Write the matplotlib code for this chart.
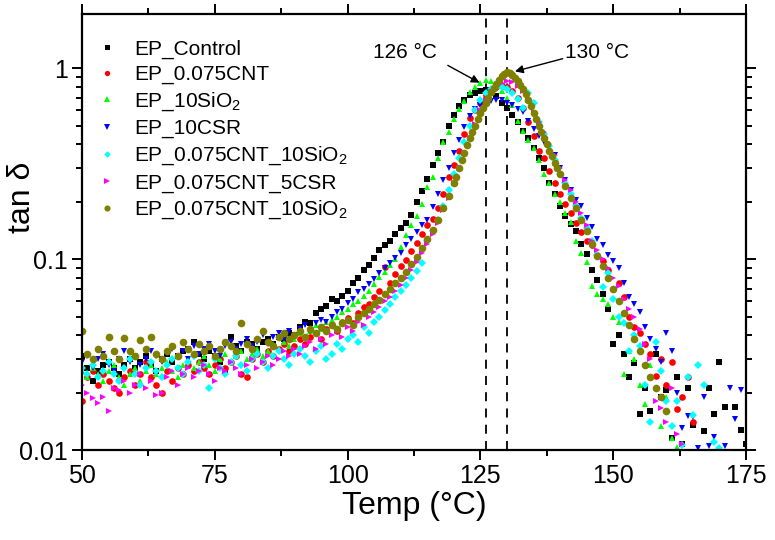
import numpy as np
import matplotlib
matplotlib.use("Agg")
import matplotlib.pyplot as plt
from matplotlib.ticker import MultipleLocator, LogLocator, NullFormatter, FixedLocator, FixedFormatter

plt.rcParams["font.family"] = ["Liberation Sans", "DejaVu Sans"]
plt.rcParams["mathtext.fontset"] = "custom"
plt.rcParams["mathtext.rm"] = "Liberation Sans"
plt.rcParams["mathtext.it"] = "Liberation Sans:italic"

# ---- data ----
temp_control = np.arange(50, 176)
tan_control = [
    0.031, 0.027, 0.023, 0.026, 0.028, 0.029, 0.027, 0.025, 0.028, 0.030,
    0.027, 0.029, 0.031, 0.028, 0.026, 0.030, 0.032, 0.029, 0.031, 0.033,
    0.034, 0.037, 0.032, 0.030, 0.033, 0.031, 0.029, 0.026, 0.039, 0.035,
    0.033, 0.037, 0.036, 0.034, 0.037, 0.038, 0.036, 0.039, 0.038, 0.041,
    0.040, 0.044, 0.047, 0.046, 0.052, 0.055, 0.057, 0.062, 0.060, 0.064,
    0.068, 0.075, 0.080, 0.088, 0.093, 0.101, 0.112, 0.118, 0.125, 0.136,
    0.146, 0.155, 0.170, 0.198, 0.228, 0.262, 0.31, 0.36, 0.41, 0.50,
    0.57, 0.63, 0.68, 0.72, 0.74, 0.76, 0.77, 0.74, 0.71, 0.66,
    0.62, 0.57, 0.52, 0.47, 0.43, 0.38, 0.34, 0.30, 0.25, 0.22,
    0.19, 0.168, 0.152, 0.140, 0.120, 0.106, 0.088, 0.078, 0.066, 0.055,
    0.036, 0.040, 0.032, 0.024, 0.0285, 0.0155, 0.021, 0.016, 0.032, 0.019,
    0.0205, 0.0116, 0.024, 0.0108, 0.021, 0.0135, 0.0095, 0.0125, 0.021, 0.0155,
    0.029, 0.0168, 0.0095, 0.0167, 0.0128, 0.0108,
]

temp_cnt = np.arange(50, 166)
tan_cnt = [
    0.018, 0.024, 0.026, 0.022, 0.025, 0.023, 0.021, 0.020, 0.024, 0.026,
    0.022, 0.025, 0.029, 0.024, 0.022, 0.020, 0.026, 0.023, 0.027, 0.025,
    0.028, 0.026, 0.029, 0.027, 0.025, 0.028, 0.030, 0.027, 0.029, 0.031,
    0.025, 0.024, 0.030, 0.032, 0.029, 0.033, 0.031, 0.034, 0.036, 0.033,
    0.035, 0.038, 0.036, 0.039, 0.041, 0.038, 0.043, 0.045, 0.042, 0.047,
    0.049, 0.046, 0.052, 0.056, 0.058, 0.063, 0.068, 0.091, 0.075, 0.084,
    0.092, 0.099, 0.110, 0.122, 0.136, 0.150, 0.162, 0.185, 0.22, 0.27,
    0.31, 0.37, 0.45, 0.55, 0.60, 0.66, 0.72, 0.77, 0.80, 0.81,
    0.80, 0.76, 0.70, 0.62, 0.52, 0.44, 0.37, 0.34, 0.29, 0.25,
    0.22, 0.195, 0.175, 0.155, 0.138, 0.125, 0.118, 0.105, 0.098, 0.088,
    0.070, 0.075, 0.063, 0.050, 0.044, 0.041, 0.036, 0.032, 0.0245, 0.030,
    0.022, 0.029, 0.0164, 0.019, 0.024, 0.014,
]

temp_sio2 = np.arange(50, 163)
tan_sio2 = [
    0.026, 0.024, 0.027, 0.025, 0.023, 0.026, 0.028, 0.024, 0.022, 0.025,
    0.027, 0.023, 0.026, 0.028, 0.025, 0.027, 0.029, 0.026, 0.024, 0.028,
    0.030, 0.027, 0.029, 0.031, 0.028, 0.026, 0.030, 0.032, 0.029, 0.031,
    0.033, 0.030, 0.032, 0.034, 0.031, 0.033, 0.036, 0.034, 0.037, 0.035,
    0.038, 0.041, 0.039, 0.042, 0.045, 0.043, 0.047, 0.048, 0.050, 0.053,
    0.055, 0.058, 0.060, 0.064, 0.068, 0.074, 0.081, 0.086, 0.093, 0.100,
    0.115, 0.134, 0.150, 0.168, 0.195, 0.238, 0.27, 0.34, 0.41, 0.46,
    0.54, 0.61, 0.67, 0.75, 0.80, 0.84, 0.87, 0.86, 0.81, 0.76,
    0.70, 0.64, 0.53, 0.47, 0.42, 0.38, 0.33, 0.28, 0.25, 0.22,
    0.20, 0.175, 0.156, 0.125, 0.108, 0.097, 0.072, 0.066, 0.062, 0.058,
    0.050, 0.047, 0.025, 0.033, 0.030, 0.022, 0.0175, 0.028, 0.021, 0.0133,
    0.019, 0.0115, 0.0104,
]

temp_csr = np.arange(50, 175)
tan_csr = [
    0.029, 0.031, 0.027, 0.030, 0.032, 0.028, 0.026, 0.030, 0.033, 0.029,
    0.031, 0.028, 0.030, 0.033, 0.031, 0.029, 0.032, 0.034, 0.031, 0.033,
    0.030, 0.035, 0.032, 0.034, 0.036, 0.033, 0.031, 0.035, 0.037, 0.034,
    0.036, 0.038, 0.035, 0.037, 0.040, 0.036, 0.039, 0.041, 0.038, 0.042,
    0.040, 0.043, 0.045, 0.042, 0.046, 0.048, 0.047, 0.050, 0.053, 0.055,
    0.059, 0.062, 0.067, 0.070, 0.074, 0.079, 0.085, 0.090, 0.095, 0.101,
    0.107, 0.118, 0.128, 0.138, 0.150, 0.160, 0.187, 0.22, 0.26, 0.30,
    0.36, 0.42, 0.49, 0.56, 0.61, 0.64, 0.66, 0.67, 0.68, 0.68,
    0.66, 0.64, 0.61, 0.59, 0.53, 0.48, 0.44, 0.41, 0.38, 0.35,
    0.30, 0.26, 0.23, 0.205, 0.19, 0.165, 0.148, 0.128, 0.118, 0.105,
    0.098, 0.090, 0.075, 0.063, 0.058, 0.053, 0.044, 0.038, 0.034, 0.029,
    0.041, 0.033, 0.020, 0.013, 0.015, 0.0149, 0.0102, 0.019, 0.0105, 0.0117,
    0.0098, 0.0105, 0.021, 0.0145, 0.0205,
]

temp_cnt_sio2 = np.arange(50, 171)
tan_cnt_sio2 = [
    0.027, 0.025, 0.028, 0.024, 0.026, 0.029, 0.025, 0.023, 0.027, 0.030,
    0.025, 0.022, 0.027, 0.029, 0.026, 0.024, 0.028, 0.030, 0.027, 0.025,
    0.029, 0.031, 0.026, 0.028, 0.021, 0.030, 0.027, 0.025, 0.029, 0.031,
    0.028, 0.026, 0.030, 0.032, 0.029, 0.027, 0.031, 0.033, 0.030, 0.028,
    0.032, 0.034, 0.031, 0.029, 0.033, 0.035, 0.030, 0.032, 0.036, 0.034,
    0.038, 0.040, 0.037, 0.044, 0.041, 0.047, 0.050, 0.054, 0.058, 0.063,
    0.068, 0.073, 0.080, 0.087, 0.095, 0.125, 0.140, 0.16, 0.19, 0.23,
    0.28, 0.34, 0.41, 0.50, 0.60, 0.68, 0.74, 0.78, 0.80, 0.80,
    0.78, 0.74, 0.69, 0.62, 0.74, 0.66, 0.52, 0.45, 0.39, 0.33,
    0.28, 0.25, 0.22, 0.19, 0.165, 0.145, 0.125, 0.105, 0.071, 0.085,
    0.062, 0.050, 0.046, 0.033, 0.040, 0.035, 0.022, 0.014, 0.037, 0.026,
    0.018, 0.0133, 0.018, 0.0106, 0.024, 0.0152, 0.028, 0.022, 0.0098, 0.011,
    0.0102,
]

temp_cnt_csr = np.arange(50, 164)
tan_cnt_csr = [
    0.022, 0.020, 0.0187, 0.0177, 0.019, 0.016, 0.021, 0.0205, 0.023, 0.020,
    0.022, 0.025, 0.021, 0.023, 0.0194, 0.020, 0.024, 0.026, 0.022, 0.025,
    0.027, 0.024, 0.026, 0.028, 0.025, 0.023, 0.027, 0.026, 0.029, 0.027,
    0.025, 0.028, 0.030, 0.027, 0.029, 0.031, 0.028, 0.030, 0.033, 0.031,
    0.034, 0.032, 0.035, 0.037, 0.034, 0.038, 0.036, 0.040, 0.042, 0.039,
    0.044, 0.042, 0.047, 0.045, 0.050, 0.053, 0.056, 0.060, 0.063, 0.068,
    0.073, 0.080, 0.088, 0.097, 0.108, 0.120, 0.135, 0.155, 0.18, 0.21,
    0.25, 0.30, 0.36, 0.43, 0.51, 0.60, 0.68, 0.75, 0.80, 0.84,
    0.86, 0.85, 0.81, 0.76, 0.68, 0.59, 0.52, 0.46, 0.40, 0.35,
    0.30, 0.26, 0.23, 0.20, 0.175, 0.150, 0.125, 0.112, 0.100, 0.090,
    0.080, 0.072, 0.062, 0.055, 0.050, 0.043, 0.036, 0.030, 0.018, 0.0165,
    0.014, 0.021, 0.0122, 0.0108,
]

temp_cnt_sio2_b = np.concatenate([np.arange(50, 120), np.arange(120, 140, 0.5), np.arange(140, 161)])
tan_cnt_sio2_b = [
    0.042, 0.032, 0.030, 0.034, 0.031, 0.039, 0.033, 0.030, 0.0385, 0.033,
    0.031, 0.0375, 0.034, 0.039, 0.032, 0.030, 0.033, 0.035, 0.031, 0.037,
    0.034, 0.032, 0.036, 0.033, 0.035, 0.031, 0.034, 0.037, 0.035, 0.033,
    0.046, 0.036, 0.034, 0.038, 0.042, 0.037, 0.035, 0.039, 0.041, 0.038,
    0.040, 0.042, 0.039, 0.043, 0.041, 0.044, 0.042, 0.045, 0.043, 0.046,
    0.048, 0.045, 0.050, 0.052, 0.055, 0.058, 0.061, 0.066, 0.070, 0.075,
    0.080, 0.086, 0.094, 0.103, 0.114, 0.127, 0.142, 0.160, 0.185, 0.215,
    0.25, 0.27, 0.30, 0.33, 0.36, 0.395, 0.43, 0.465, 0.50, 0.54,
    0.58, 0.62, 0.66, 0.70, 0.75, 0.79, 0.83, 0.87, 0.91, 0.935,
    0.95, 0.94, 0.92, 0.89, 0.86, 0.82, 0.78, 0.73, 0.68, 0.63,
    0.58, 0.54, 0.50, 0.465, 0.43, 0.40, 0.37, 0.345, 0.32, 0.30,
    0.28, 0.24, 0.21, 0.185, 0.16, 0.14, 0.12, 0.104, 0.092, 0.080,
    0.070, 0.060, 0.052, 0.045, 0.038, 0.033, 0.028, 0.024, 0.021, 0.019, 0.016,
]

labels = ["EP_Control", "EP_0.075CNT", "EP_10SiO$_2$", "EP_10CSR",
          "EP_0.075CNT_10SiO$_2$", "EP_0.075CNT_5CSR", "EP_0.075CNT_10SiO$_2$"]
colors = ["#000000", "#ff0000", "#00ff00", "#0000ff", "#00ffff", "#ff00ff", "#808000"]
markers = ["s", "o", "^", "v", "D", ">", "o"]
sizes = [4.5, 4.8, 5, 5, 4.2, 5, 5.5]

series = [
    (temp_control, tan_control),
    (temp_cnt, tan_cnt),
    (temp_sio2, tan_sio2),
    (temp_csr, tan_csr),
    (temp_cnt_sio2, tan_cnt_sio2),
    (temp_cnt_csr, tan_cnt_csr),
    (temp_cnt_sio2_b, tan_cnt_sio2_b),
]

peak_temps = [126, 130]

fig = plt.figure(figsize=(7.75, 5.4), dpi=100)
ax = fig.add_axes([82 / 775, 90 / 540, 664 / 775, 436 / 540])

for (t, v), lab, c, m, s in zip(series, labels, colors, markers, sizes):
    ax.plot(t, v, ls="none", marker=m, ms=s, color=c, mec=c, mew=0, label=lab)

for pt in peak_temps:
    ax.axvline(pt, color="k", lw=1.3, ls=(0, (5, 4)), zorder=1)

ax.set_yscale("log")
ax.set_xlim(50, 175)
ax.set_ylim(0.01, 1.92)

ax.xaxis.set_major_locator(MultipleLocator(25))
ax.xaxis.set_minor_locator(MultipleLocator(12.5))
ax.yaxis.set_major_locator(FixedLocator([0.01, 0.1, 1]))
ax.yaxis.set_major_formatter(FixedFormatter(["0.01", "0.1", "1"]))
ax.yaxis.set_minor_locator(LogLocator(base=10, subs=np.arange(2, 10)))
ax.yaxis.set_minor_formatter(NullFormatter())

for sp in ax.spines.values():
    sp.set_linewidth(1.6)

ax.tick_params(which="both", direction="out", labelsize=18, width=1.4, pad=3)
ax.tick_params(which="major", length=7)
ax.tick_params(which="minor", length=4)
ax.tick_params(which="both", top=True, right=True)
# top/right ticks point inward
for tick in ax.xaxis.get_major_ticks() + ax.xaxis.get_minor_ticks():
    tick.tick2line.set_marker(2)
for tick in ax.yaxis.get_major_ticks() + ax.yaxis.get_minor_ticks():
    tick.tick2line.set_marker(1)

ax.set_xlabel("Temp (°C)", fontsize=23, labelpad=2)
ax.set_ylabel("tan δ", fontsize=23)
ax.yaxis.set_label_coords(-0.068, 0.58)

ax.annotate("", xy=(125.3, 0.825), xytext=(118.4, 1.05),
            arrowprops=dict(arrowstyle="-|>", color="k", lw=1, mutation_scale=12))
ax.text(110.8, 1.2, "126 °C", fontsize=15, ha="center", va="center")
ax.annotate("", xy=(131.0, 0.953), xytext=(141.0, 1.13),
            arrowprops=dict(arrowstyle="-|>", color="k", lw=1, mutation_scale=12))
ax.text(147.0, 1.2, "130 °C", fontsize=15, ha="center", va="center")

ax.legend(loc="upper left", bbox_to_anchor=(0.0, 0.975), frameon=False, fontsize=15,
          handlelength=1.0, handletextpad=0.8, labelspacing=0.3, borderaxespad=0.3,
          markerscale=0.8)

fig.savefig("out.png", dpi=100)
